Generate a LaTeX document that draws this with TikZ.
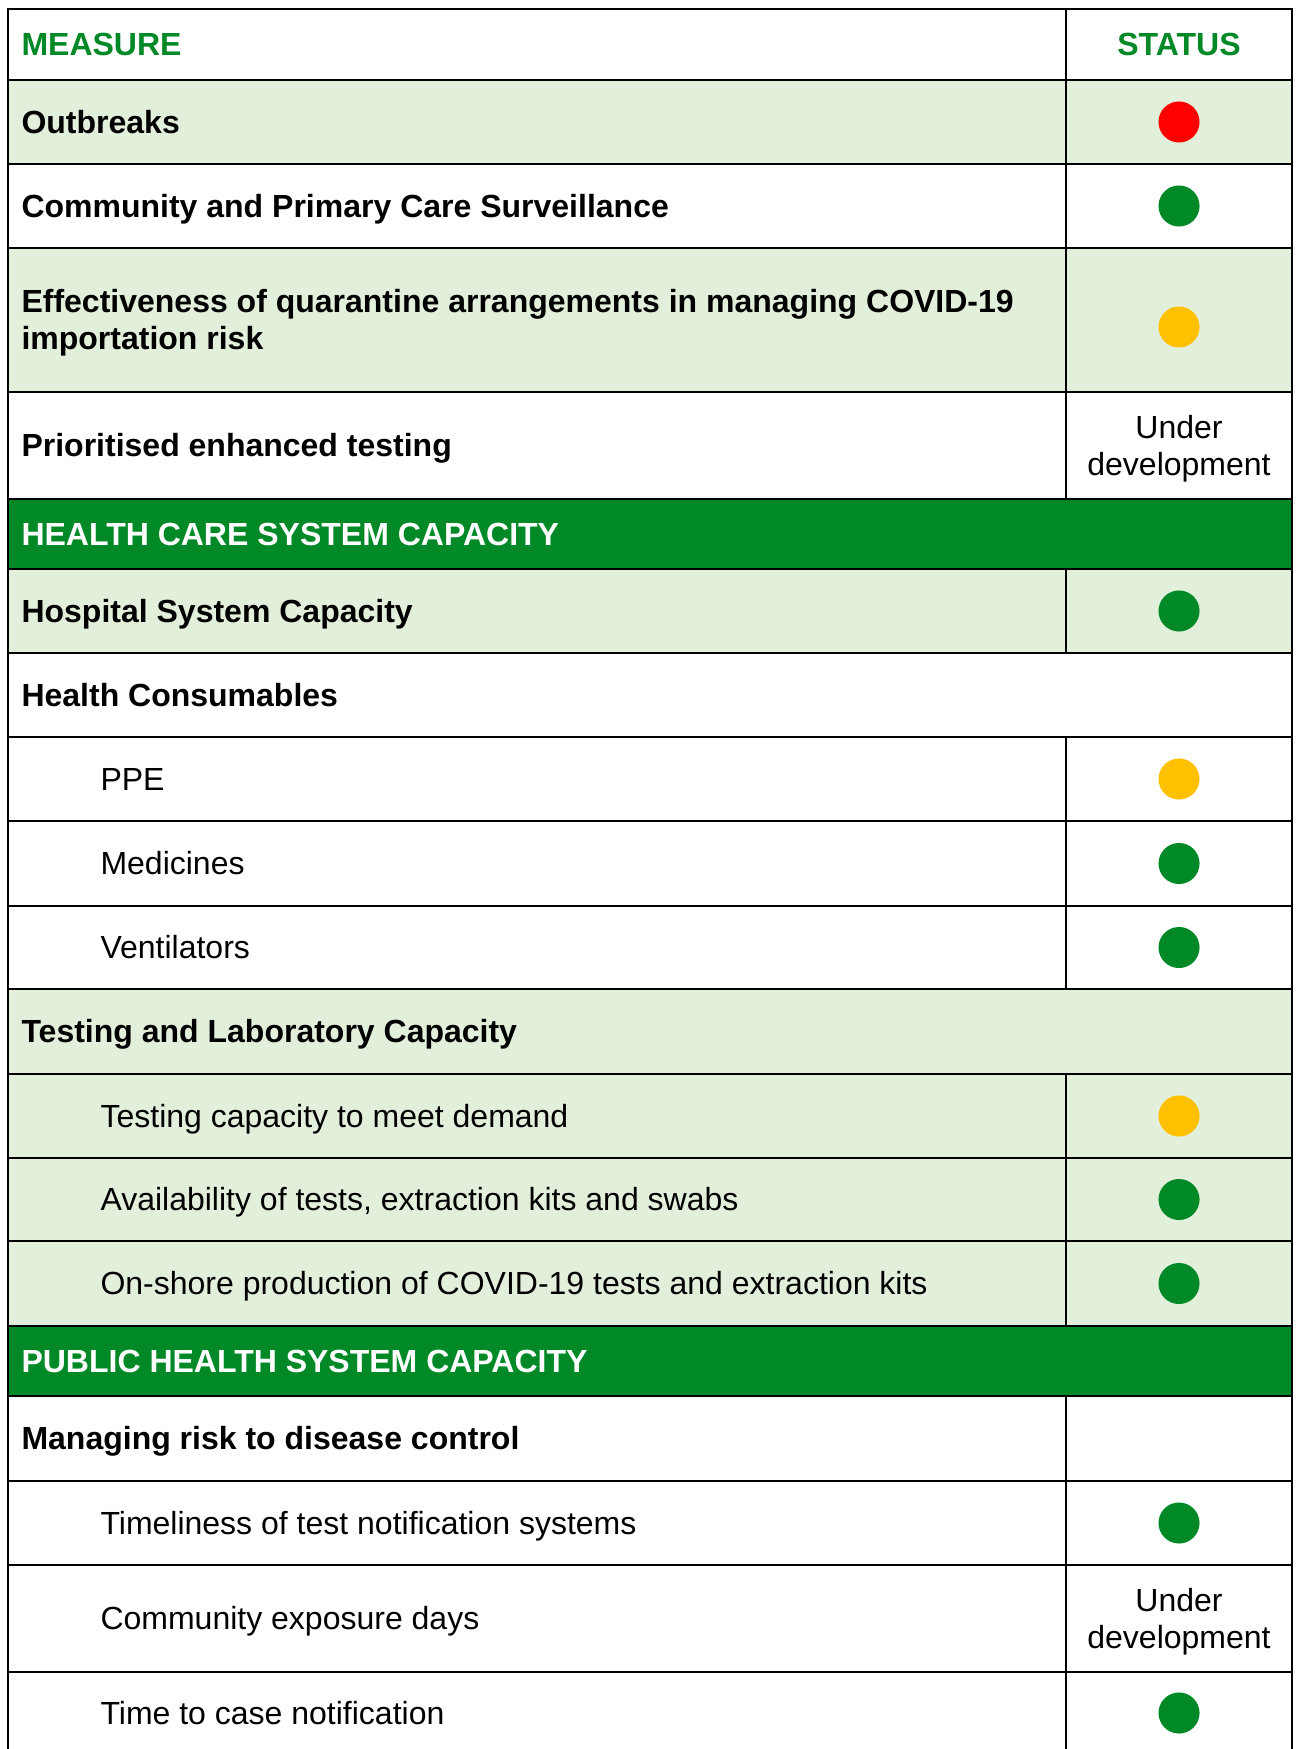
\documentclass[tikz,border=0pt]{standalone}
\usepackage{fontspec}
\setmainfont{Liberation Sans}
\definecolor{dkgreen}{RGB}{0,137,38}
\definecolor{paleg}{RGB}{226,239,218}
\definecolor{amber}{RGB}{255,192,0}
\definecolor{alarm}{RGB}{255,0,0}

\begin{document}
\begin{tikzpicture}[x=0.375pt, y=-0.375pt,
		every node/.style={font=\fontsize{12}{13.8}\selectfont},
		rule/.style={line width=0.75pt, black},
		item/.style={anchor=west, inner sep=0pt, text height=8.6pt, text depth=0pt, font=\fontsize{12}{13.8}\selectfont\bfseries},
		subitem/.style={anchor=west, inner sep=0pt, text height=8.6pt, text depth=0pt},
		twoline/.style={inner sep=0pt},
		section/.style={item, text=white},
		colhead/.style={item, text=dkgreen},
		dot/.style={circle, inner sep=0pt, minimum size=15.4pt}]
		
		\useasboundingbox (0,0) rectangle (1295,1749);
		
		% row shading
		\fill[paleg] (8,80) rectangle (1292,164);
		\fill[paleg] (8,248) rectangle (1292,392);
		\fill[dkgreen] (8,499) rectangle (1292,569);
		\fill[paleg] (8,569) rectangle (1292,653);
		\fill[paleg] (8,989) rectangle (1292,1326);
		\fill[dkgreen] (8,1326) rectangle (1292,1396);
		
		% grid
		\draw[rule] (8,1749) -- (8,9) -- (1292,9) -- (1292,1749);
		\draw[rule] (8,80) -- (1292,80);
		\draw[rule] (8,164) -- (1292,164);
		\draw[rule] (8,248) -- (1292,248);
		\draw[rule] (8,392) -- (1292,392);
		\draw[rule] (8,499) -- (1292,499);
		\draw[rule] (8,569) -- (1292,569);
		\draw[rule] (8,653) -- (1292,653);
		\draw[rule] (8,737) -- (1292,737);
		\draw[rule] (8,821) -- (1292,821);
		\draw[rule] (8,906) -- (1292,906);
		\draw[rule] (8,989) -- (1292,989);
		\draw[rule] (8,1074) -- (1292,1074);
		\draw[rule] (8,1158) -- (1292,1158);
		\draw[rule] (8,1241) -- (1292,1241);
		\draw[rule] (8,1326) -- (1292,1326);
		\draw[rule] (8,1396) -- (1292,1396);
		\draw[rule] (8,1481) -- (1292,1481);
		\draw[rule] (8,1565) -- (1292,1565);
		\draw[rule] (8,1672) -- (1292,1672);
		
		\draw[rule] (1066,9) -- (1066,499);
		\draw[rule] (1066,569) -- (1066,653);
		\draw[rule] (1066,737) -- (1066,989);
		\draw[rule] (1066,1074) -- (1066,1326);
		\draw[rule] (1066,1396) -- (1066,1749);
		
		\node[colhead] (measure) at (21, 44.5) {MEASURE};
		\node[colhead, anchor=center] (status) at (1179, 44.5) {STATUS};
		
		\node[item] (outbreaks) at (21, 122) {Outbreaks};
		\node[dot, fill=alarm] (outbreaksdot) at (1179, 122) {};
		
		\node[item] (community) at (21, 206) {Community and Primary Care Surveillance};
		\node[dot, fill=dkgreen] (communitydot) at (1179, 206) {};
		
		\node[twoline, anchor=west, align=left, font=\fontsize{12}{13.8}\selectfont\bfseries] (quarantine) at (21, 323) {Effectiveness of quarantine arrangements in managing COVID-19\\importation risk};
		\node[dot, fill=amber] (quarantinedot) at (1179, 327) {};
		
		\node[item] (testing) at (21, 445.5) {Prioritised enhanced testing};
		\node[twoline, align=center] (testingstat) at (1179, 448.5) {Under\\development};
		
		\node[section] (hcsc) at (21, 534) {HEALTH CARE SYSTEM CAPACITY};
		
		\node[item] (hospital) at (21, 611) {Hospital System Capacity};
		\node[dot, fill=dkgreen] (hospitaldot) at (1179, 611) {};
		
		\node[item] (consumables) at (21, 695) {Health Consumables};
		
		\node[subitem] (ppe) at (100, 779) {PPE};
		\node[dot, fill=amber] (ppedot) at (1179, 779) {};
		
		\node[subitem] (medicines) at (100, 863.5) {Medicines};
		\node[dot, fill=dkgreen] (medicinesdot) at (1179, 863.5) {};
		
		\node[subitem] (ventilators) at (100, 947.5) {Ventilators};
		\node[dot, fill=dkgreen] (ventilatorsdot) at (1179, 947.5) {};
		
		\node[item] (lab) at (21, 1031.5) {Testing and Laboratory Capacity};
		
		\node[subitem] (demand) at (100, 1116) {Testing capacity to meet demand};
		\node[dot, fill=amber] (demanddot) at (1179, 1116) {};
		
		\node[subitem] (kits) at (100, 1199.5) {Availability of tests, extraction kits and swabs};
		\node[dot, fill=dkgreen] (kitsdot) at (1179, 1199.5) {};
		
		\node[subitem] (onshore) at (100, 1283.5) {On-shore production of COVID-19 tests and extraction kits};
		\node[dot, fill=dkgreen] (onshoredot) at (1179, 1283.5) {};
		
		\node[section] (phsc) at (21, 1361) {PUBLIC HEALTH SYSTEM CAPACITY};
		
		\node[item] (managing) at (21, 1438.5) {Managing risk to disease control};
		
		\node[subitem] (timeliness) at (100, 1523) {Timeliness of test notification systems};
		\node[dot, fill=dkgreen] (timelinessdot) at (1179, 1523) {};
		
		\node[subitem] (exposure) at (100, 1618.5) {Community exposure days};
		\node[twoline, align=center] (exposurestat) at (1179, 1621.5) {Under\\development};
		
		\node[subitem] (casenote) at (100, 1713) {Time to case notification};
		\node[dot, fill=dkgreen] (casenotedot) at (1179, 1713) {};
		
	\end{tikzpicture}
\end{document}
